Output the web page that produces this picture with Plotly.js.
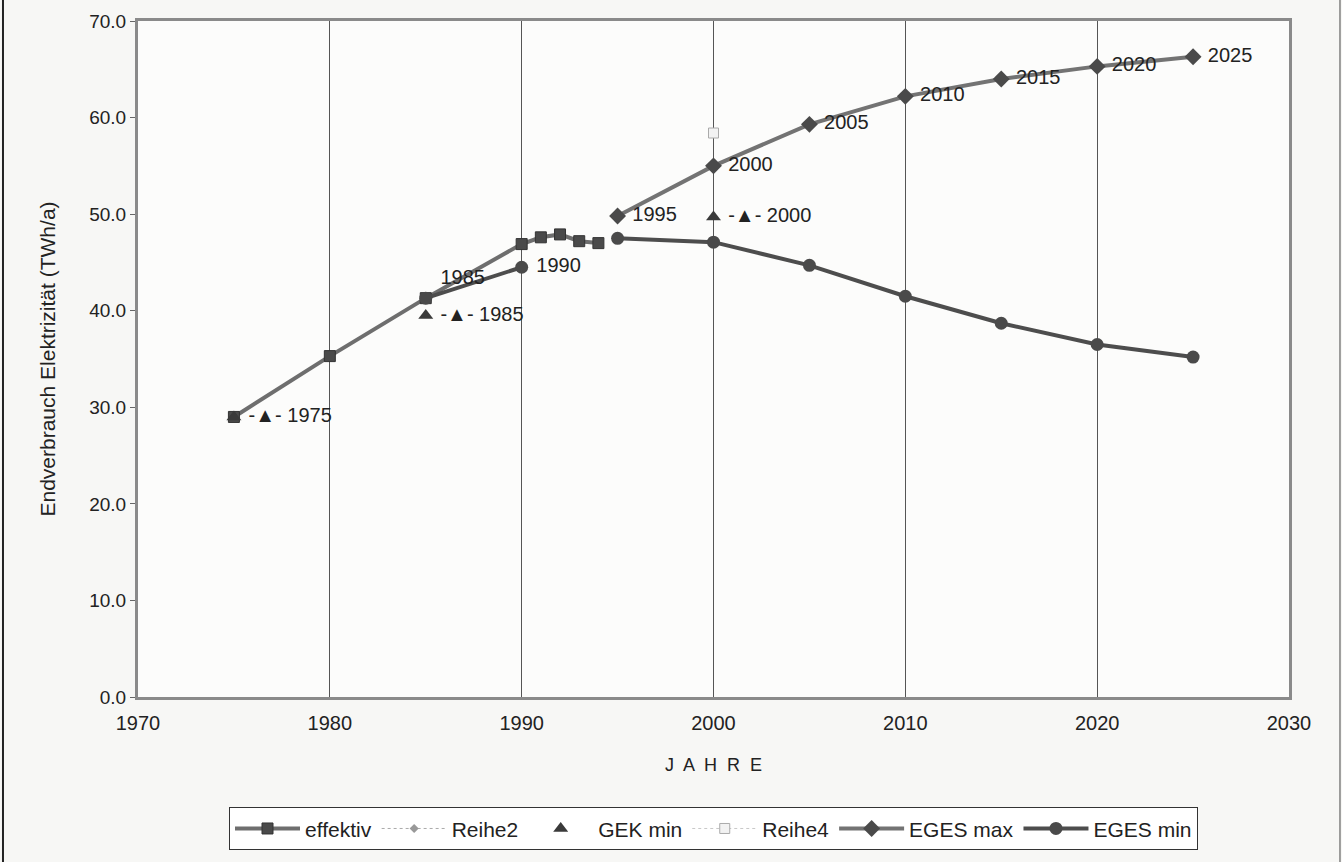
<!DOCTYPE html>
<html>
<head>
<meta charset="utf-8">
<script src="https://cdn.plot.ly/plotly-3.0.1.min.js"></script>
<style>html,body{margin:0;padding:0;background:#f7f7f5;}#chart{width:1342px;height:862px;}</style>
</head>
<body>
<div id="chart"></div>
<script>
// ---- data ----
var effektivYears = [1975, 1980, 1985, 1990, 1991, 1992, 1993, 1994];
var effektivValues = [29.0, 35.3, 41.3, 46.9, 47.6, 47.9, 47.2, 47.0];

var reihe2Years = [null];
var reihe2Values = [null];

var gekYears = [1975, 1985, 2000];
var gekValues = [29.0, 39.5, 49.7];
var gekLabels = ['1975', '1985', '2000'];

var reihe4Years = [2000];
var reihe4Values = [58.4];

var egesMaxYears = [1995, 2000, 2005, 2010, 2015, 2020, 2025];
var egesMaxValues = [49.8, 55.0, 59.3, 62.2, 64.0, 65.3, 66.3];
var egesMaxLabels = ['1995', '2000', '2005', '2010', '2015', '2020', '2025'];

var egesMinYears = [1985, 1990, null, 1995, 2000, 2005, 2010, 2015, 2020, 2025];
var egesMinValues = [41.3, 44.5, null, 47.5, 47.1, 44.7, 41.5, 38.7, 36.5, 35.2];
var egesMinLabels = ['1985', '1990', '', '', '', '', '', '', '', ''];

var xTicks = [1970, 1980, 1990, 2000, 2010, 2020, 2030];
var yTicks = [0, 10, 20, 30, 40, 50, 60, 70];

var FONT = 'Liberation Sans, Arial, sans-serif';
var labelFont = {family: FONT, size: 20, color: '#222'};

var traces = [
  {
    name: 'effektiv', legendrank: 1,
    x: effektivYears, y: effektivValues, mode: 'lines+markers', type: 'scatter',
    line: {color: '#6e6e6e', width: 4},
    marker: {symbol: 'square', size: 11, color: '#4a4a4a', line: {color: '#333', width: 1}}
  },
  {
    name: 'Reihe2', legendrank: 2, showlegend: true,
    x: reihe2Years, y: reihe2Values, mode: 'lines+markers', type: 'scatter',
    line: {color: '#aaa', width: 1, dash: 'dot'},
    marker: {symbol: 'diamond', size: 7, color: '#999'}
  },
  {
    name: 'Reihe4', legendrank: 4,
    x: reihe4Years, y: reihe4Values, mode: 'lines+markers', type: 'scatter',
    line: {color: '#c8c8c8', width: 1, dash: 'dot'},
    marker: {symbol: 'square', size: 10, color: '#f2f2f2', line: {color: '#aaa', width: 1}}
  },
  {
    name: 'EGES max', legendrank: 5,
    x: egesMaxYears, y: egesMaxValues, mode: 'lines+markers+text', type: 'scatter',
    text: egesMaxLabels.map(function(t){return ' ' + t;}), textposition: 'middle right', textfont: labelFont,
    line: {color: '#737373', width: 4},
    marker: {symbol: 'diamond', size: 13, color: '#4a4a4a'}
  },
  {
    name: 'EGES min', legendrank: 6,
    x: egesMinYears, y: egesMinValues, mode: 'lines+markers+text', type: 'scatter',
    connectgaps: false,
    text: egesMinLabels.map(function(t){return t ? ' ' + t : '';}),
    textposition: ['top right', 'middle right', 'middle right', 'middle right', 'middle right', 'middle right', 'middle right', 'middle right', 'middle right', 'middle right'],
    textfont: labelFont,
    line: {color: '#4d4d4d', width: 4},
    marker: {symbol: 'circle', size: 13, color: '#4a4a4a'}
  },
  {
    name: 'GEK min', legendrank: 3,
    x: gekYears, y: gekValues, mode: 'markers+text', type: 'scatter',
    text: gekLabels.map(function(t){return ' -▲- ' + t;}), textposition: 'middle right', textfont: labelFont,
    marker: {symbol: 'triangle-up', size: 13, color: '#3a3a3a'}
  }
];

var layout = {
  width: 1342, height: 862,
  margin: {l: 138, r: 53, t: 21, b: 163},
  paper_bgcolor: '#f7f7f5',
  plot_bgcolor: '#fcfcfb',
  font: {family: FONT, color: '#222'},
  showlegend: true,
  legend: {
    orientation: 'h', x: 0.5, xanchor: 'center', y: -0.195, yanchor: 'middle',
    bgcolor: '#ffffff', bordercolor: '#333', borderwidth: 1,
    font: {family: FONT, size: 21, color: '#222'},
    itemwidth: 65, tracegroupgap: 0, traceorder: 'normal'
  },
  xaxis: {
    range: [1970, 2030], tickvals: xTicks, ticktext: xTicks.map(String),
    showgrid: true, gridcolor: '#555', gridwidth: 1,
    showline: true, mirror: true, linecolor: '#8a8a8a', linewidth: 3,
    ticks: 'outside', ticklen: 6, tickcolor: 'rgba(0,0,0,0)', zeroline: false,
    tickfont: {family: FONT, size: 20, color: '#222'},
    title: {text: 'J  A  H  R  E', font: {family: FONT, size: 18, color: '#222'}, standoff: 26}
  },
  yaxis: {
    range: [0, 70], tickvals: yTicks, ticktext: yTicks.map(function(v){return v.toFixed(1);}),
    showgrid: false, zeroline: false,
    showline: true, mirror: true, linecolor: '#8a8a8a', linewidth: 3,
    ticks: 'outside', ticklen: 5, tickcolor: '#666',
    tickfont: {family: FONT, size: 19, color: '#222'},
    title: {text: 'Endverbrauch Elektrizität (TWh/a)', font: {family: FONT, size: 21, color: '#222'}, standoff: 28}
  },
  shapes: [
    {type: 'line', xref: 'paper', yref: 'paper', x0: -0.1173, x1: -0.1173, y0: -0.245, y1: 1.04, line: {color: '#222', width: 2}},
    {type: 'line', xref: 'paper', yref: 'paper', x0: 1.0443, x1: 1.0443, y0: -0.245, y1: 1.04, line: {color: '#444', width: 1}}
  ]
};

Plotly.newPlot('chart', traces, layout, {displayModeBar: false, responsive: false});
</script>
</body>
</html>
